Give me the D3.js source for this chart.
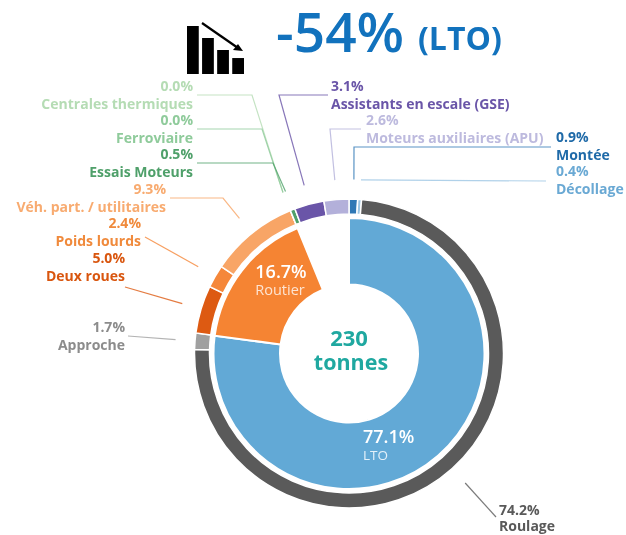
<!DOCTYPE html>
<html>
<head>
<meta charset="utf-8">
<script src="https://cdnjs.cloudflare.com/ajax/libs/d3/7.8.5/d3.min.js"></script>
<style>
html, body { margin: 0; padding: 0; background: #fff; }
svg { display: block; filter: blur(0.45px); }
text { font-family: "Open Sans", sans-serif; }
</style>
</head>
<body>
<div id="chart"></div>
<script>
var innerNames = ["LTO", "Routier", "reste"];
var innerValues = [77.1, 16.7, 6.2];

var outerNames = ["Montée", "Décollage", "Roulage", "Approche", "Deux roues", "Poids lourds",
	"Véh. part. / utilitaires", "Centrales thermiques", "Ferroviaire", "Essais Moteurs",
	"Assistants en escale (GSE)", "Moteurs auxiliaires (APU)"];
var outerValues = [0.9, 0.4, 74.2, 1.7, 5.0, 2.4, 9.3, 0.0, 0.0, 0.5, 3.1, 2.6];
var outerLabels = ["0.9%", "0.4%", "74.2%", "1.7%", "5.0%", "2.4%", "9.3%", "0.0%", "0.0%", "0.5%", "3.1%", "2.6%"];
var outerColors = ["#2f78b5", "#9cc6e4", "#5a5a5a", "#a0a0a0", "#dd5a12", "#f5873a",
	"#f8a566", "#b5dcb4", "#8fcb9b", "#4fa06a", "#6a55a8", "#b3b0da"];

var iconBars = [4, 3, 2, 1.33];

var w = 626;
var h = 535;
var cx = 349;
var cy = 353.5;

var svg = d3.
select("#chart").
append("svg").
attr("width", w).
attr("height", h);

var pie = d3.pie().sort(null).value(function (d) {return d;});

// inner ring, the last slice stays empty
var innerArc = d3.arc().innerRadius(69).outerRadius(135.5);
var innerColors = ["#62a9d6", "#f58433", "none"];

svg.
append("g").
attr("transform", "translate(" + cx + "," + cy + ")").
selectAll("path").
data(pie(innerValues)).
enter().
append("path").
attr("d", innerArc).
attr("fill", function (d, i) {return innerColors[i];}).
attr("stroke", function (d, i) {return innerNames[i] === "reste" ? "none" : "#fff";}).
attr("stroke-width", 2);

var outerArc = d3.arc().innerRadius(139.5).outerRadius(154.5);
var outerPie = pie(outerValues);

svg.
append("g").
attr("transform", "translate(" + cx + "," + cy + ")").
selectAll("path").
data(outerPie).
enter().
append("path").
attr("d", outerArc).
attr("fill", function (d, i) {return outerColors[i];}).
attr("stroke", "#fff").
attr("stroke-width", 1.5);

// leader lines end on a circle just outside the ring
var leaderArc = d3.arc().innerRadius(174).outerRadius(174);

// start and elbow of each leader, then where its label sits
var leaders = [
	{ name: "Montée", pts: [[551, 147], [354, 147]], x: 556, y: 142, anchor: "start", color: "#1f6aa8" },
	{ name: "Décollage", pts: [[546, 181]], x: 556, y: 176, anchor: "start", color: "#6aa9d4" },
	{ name: "Roulage", pts: [[496, 517]], x: 499, y: 515, gap: 16, anchor: "start", color: "#595959" },
	{ name: "Approche", pts: [[128, 336]], x: 125, y: 332, anchor: "end", color: "#8c8c8c" },
	{ name: "Deux roues", pts: [[125, 287]], x: 125, y: 263, anchor: "end", color: "#d9560f" },
	{ name: "Poids lourds", pts: [[145, 237]], x: 141, y: 228, anchor: "end", color: "#f08a3c" },
	{ name: "Véh. part. / utilitaires", pts: [[170, 198], [223, 198]], x: 166, y: 194, anchor: "end", color: "#f8ab70" },
	{ name: "Centrales thermiques", pts: [[197, 95], [252, 95]], x: 193, y: 91, anchor: "end", color: "#b5dcb4" },
	{ name: "Ferroviaire", pts: [[197, 129], [262, 129]], x: 193, y: 125, anchor: "end", color: "#8fcb9b" },
	{ name: "Essais Moteurs", pts: [[197, 163], [273, 163]], x: 193, y: 159, anchor: "end", color: "#4fa06a" },
	{ name: "Assistants en escale (GSE)", pts: [[328, 95], [279, 95]], x: 331, y: 91, anchor: "start", color: "#6a55a8" },
	{ name: "Moteurs auxiliaires (APU)", pts: [[361, 129], [330, 129]], x: 366, y: 125, anchor: "start", color: "#bdbade" }
];

var line = d3.line();

leaders.forEach(function (l) {
	var k = outerNames.indexOf(l.name);
	var c = leaderArc.centroid(outerPie[k]);
	var pts = l.pts.concat([[cx + c[0], cy + c[1]]]);

	svg.
	append("path").
	attr("d", line(pts)).
	attr("fill", "none").
	attr("stroke", outerColors[k]).
	attr("stroke-opacity", 0.8).
	attr("stroke-width", 1.2);

	svg.
	append("text").
	text(outerLabels[k]).
	attr("x", l.x).
	attr("y", l.y).
	attr("text-anchor", l.anchor).
	attr("font-size", 14).
	attr("font-weight", 700).
	attr("fill", l.color);

	svg.
	append("text").
	text(l.name).
	attr("x", l.x).
	attr("y", l.y + (l.gap || 18)).
	attr("text-anchor", l.anchor).
	attr("font-size", 14).
	attr("font-weight", 700).
	attr("fill", l.color);
});

// icon
var iconX = d3.scaleBand().domain(d3.range(iconBars.length)).range([187, 244]).paddingInner(0.22);
var iconY = d3.scaleLinear().domain([0, 4]).range([74, 26]);

svg.
selectAll("rect.icon").
data(iconBars).
enter().
append("rect").
attr("class", "icon").
attr("x", function (d, i) {return iconX(i);}).
attr("y", function (d) {return iconY(d);}).
attr("width", iconX.bandwidth()).
attr("height", function (d) {return iconY(0) - iconY(d);}).
attr("fill", "#000");

svg.
append("path").
attr("d", "M202,23L238,48").
attr("stroke", "#000").
attr("stroke-width", 2.2);

svg.
append("path").
attr("d", "M243,51L233,50L238,44Z").
attr("fill", "#000");

// title
svg.
append("text").
text("-54%").
attr("x", 276).
attr("y", 52).
attr("font-size", 55).
attr("font-weight", 600).
attr("fill", "#1272bd");

svg.
append("text").
text("(LTO)").
attr("x", 418).
attr("y", 50).
attr("font-size", 32).
attr("font-weight", 700).
attr("fill", "#1272bd");

// centre and inner labels
svg.append("text").text("230").attr("x", 349).attr("y", 346).attr("text-anchor", "middle").
attr("font-size", 22).attr("font-weight", 700).attr("fill", "#1fa8a0");
svg.append("text").text("tonnes").attr("x", 351).attr("y", 370).attr("text-anchor", "middle").
attr("font-size", 21.5).attr("font-weight", 700).attr("fill", "#1fa8a0");

svg.append("text").text("16.7%").attr("x", 281).attr("y", 278).attr("text-anchor", "middle").
attr("font-size", 18).attr("font-weight", 600).attr("fill", "#fff");
svg.append("text").text("Routier").attr("x", 280).attr("y", 295).attr("text-anchor", "middle").
attr("font-size", 14.5).attr("fill", "#fde4d2");

svg.append("text").text("77.1%").attr("x", 363).attr("y", 443).
attr("font-size", 18).attr("font-weight", 600).attr("fill", "#fff");
svg.append("text").text("LTO").attr("x", 363).attr("y", 460).
attr("font-size", 13.5).attr("fill", "#e3f1fa");
</script>
</body>
</html>
